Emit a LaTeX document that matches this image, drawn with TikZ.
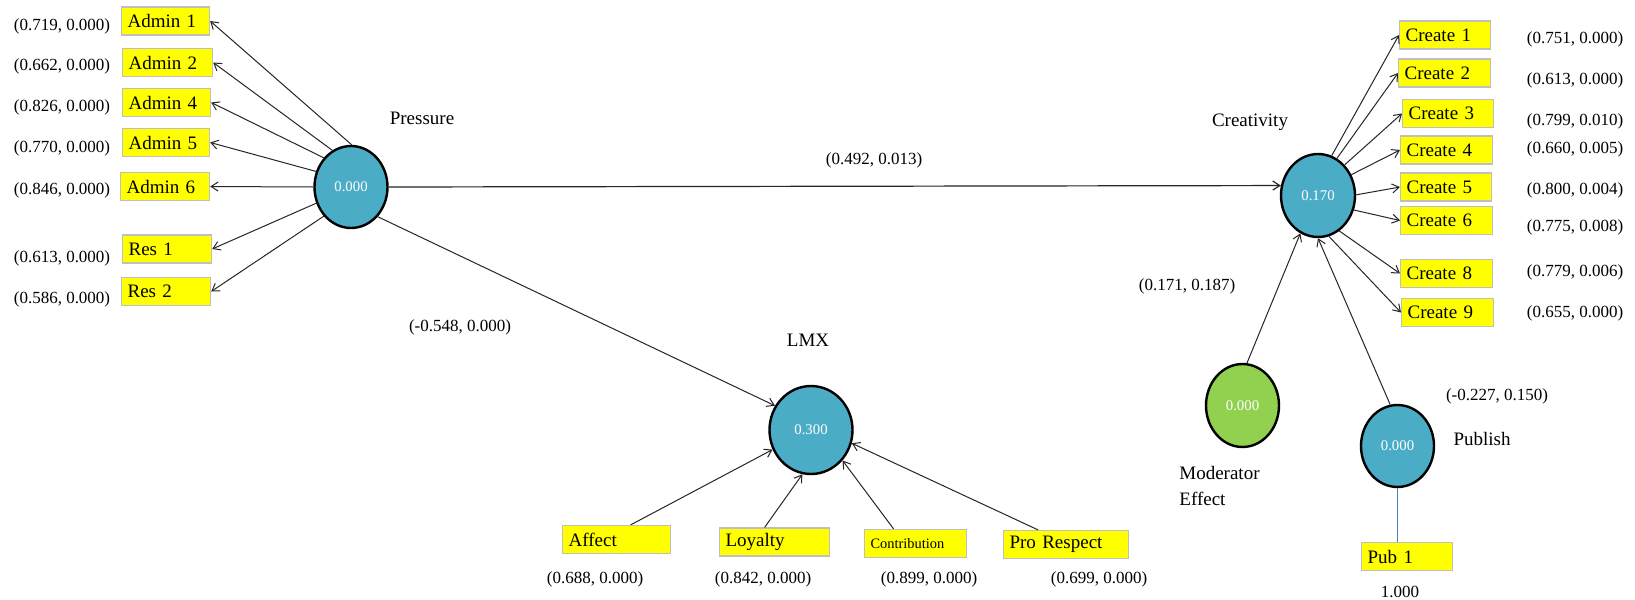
\documentclass[tikz,border=0pt]{standalone}
\usepackage{fontspec}
\setmainfont{Liberation Serif}
\usetikzlibrary{arrows.meta,shapes.geometric}
\definecolor{latentfill}{HTML}{4BACC6}
\definecolor{modfill}{HTML}{92D050}
\definecolor{indfill}{HTML}{FFFF00}
\definecolor{indborder}{HTML}{BFBFBF}
\definecolor{publine}{HTML}{4A7EBB}
\begin{document}
\begin{tikzpicture}[x=0.5pt,y=-0.5pt,
  latent/.style={ellipse, draw=black, line width=1.2pt, fill=latentfill, inner sep=0pt,
    minimum width=36.5pt, minimum height=41pt, text=white, font=\fontsize{7.4}{8}\selectfont},
  indbox/.style={draw=indborder, line width=0.6pt, fill=indfill, anchor=west,
    minimum height=14pt, inner xsep=3pt, inner ysep=0pt, align=left,
    font=\fontsize{9.5}{10}\selectfont},
  lname/.style={font=\fontsize{9.5}{13}\selectfont, inner sep=0pt},
  coef/.style={font=\fontsize{8.5}{10}\selectfont, inner sep=0pt},
  path/.style={draw=black!85, line width=0.5pt, -{Straight Barb[length=3.5pt,width=4.5pt]}}
]
\useasboundingbox (0,0) rectangle (1635,600);
\fill[white] (0,0) rectangle (1635,600);

% latent variables
\node[latent] (P) at (351,187) {0.000};
\node[latent, minimum width=37pt, minimum height=41.5pt] (C) at (1318,195.5) {0.170};
\node[latent, minimum width=41.5pt, minimum height=44pt] (L) at (811,430) {0.300};
\node[latent, fill=modfill, minimum height=41.5pt] (M) at (1242.5,405.5) {0.000};
\node[latent] (U) at (1397.5,446) {0.000};

% latent variable names
\node[lname] (Pn) at (422,118) {Pressure};
\node[lname] (Cn) at (1250,122) {Creativity};
\node[lname] (Ln) at (808,340) {LMX};
\node[lname, align=left, anchor=north west] (Mn) at (1179,466) {Moderator\\Effect};
\node[lname] (Un) at (1482,439) {Publish};

% Pressure indicators
\node[indbox, text width=38pt] (a1) at (121,21) {Admin 1};
\node[indbox, text width=39pt] (a2) at (122,62.5) {Admin 2};
\node[indbox, text width=38pt] (a4) at (122,102.5) {Admin 4};
\node[indbox, text width=37.5pt] (a5) at (122,142.5) {Admin 5};
\node[indbox, text width=38.5pt] (a6) at (120,186.5) {Admin 6};
\node[indbox, text width=38.5pt] (r1) at (122,249) {Res 1};
\node[indbox, text width=38.5pt] (r2) at (121,291.5) {Res 2};

\node[coef] (ka1) at (62,26) {(0.719, 0.000)};
\node[coef] (ka2) at (62,66) {(0.662, 0.000)};
\node[coef] (ka4) at (62,107.5) {(0.826, 0.000)};
\node[coef] (ka5) at (62,148) {(0.770, 0.000)};
\node[coef] (ka6) at (62,190) {(0.846, 0.000)};
\node[coef] (kr1) at (62,258) {(0.613, 0.000)};
\node[coef] (kr2) at (62,299.5) {(0.586, 0.000)};

% Creativity indicators
\node[indbox, text width=39.5pt] (c1) at (1399,35) {Create 1};
\node[indbox, text width=40pt] (c2) at (1398,73) {Create 2};
\node[indbox, text width=39.5pt] (c3) at (1402,113.5) {Create 3};
\node[indbox, text width=40pt] (c4) at (1400,150) {Create 4};
\node[indbox, text width=39.5pt] (c5) at (1400,187) {Create 5};
\node[indbox, text width=40pt] (c6) at (1400,220.5) {Create 6};
\node[indbox, text width=40pt] (c8) at (1400,273.5) {Create 8};
\node[indbox, text width=40pt] (c9) at (1401,312.5) {Create 9};

\node[coef] (kc1) at (1575,39.5) {(0.751, 0.000)};
\node[coef] (kc2) at (1575,80) {(0.613, 0.000)};
\node[coef] (kc3) at (1575,121.5) {(0.799, 0.010)};
\node[coef] (kc4) at (1575,149) {(0.660, 0.005)};
\node[coef] (kc5) at (1575,190.5) {(0.800, 0.004)};
\node[coef] (kc6) at (1575,227.5) {(0.775, 0.008)};
\node[coef] (kc8) at (1575,272.5) {(0.779, 0.006)};
\node[coef] (kc9) at (1575,313) {(0.655, 0.000)};

% LMX indicators
\node[indbox, text width=48pt] (x1) at (562,539.5) {Affect};
\node[indbox, text width=49pt] (x2) at (719,542) {Loyalty};
\node[indbox, text width=45pt, font=\fontsize{7.2}{8}\selectfont] (x3) at (864,543.5) {Contribution};
\node[indbox, text width=56.5pt] (x4) at (1003,544.5) {Pro Respect};

\node[coef] (kx1) at (595,579) {(0.688, 0.000)};
\node[coef] (kx2) at (763,579) {(0.842, 0.000)};
\node[coef] (kx3) at (929,579) {(0.899, 0.000)};
\node[coef] (kx4) at (1099,579) {(0.699, 0.000)};

% Publish indicator
\node[indbox, text width=39.5pt] (u1) at (1361,556.5) {Pub 1};
\node[coef] (ku1) at (1400,592) {1.000};

% structural path coefficients
\node[coef] (kPC) at (874,160) {(0.492, 0.013)};
\node[coef] (kPL) at (460,327) {(-0.548, 0.000)};
\node[coef] (kMC) at (1187,286) {(0.171, 0.187)};
\node[coef] (kUC) at (1497,396) {(-0.227, 0.150)};

% outer loadings of Pressure
\draw[path] (P.89) -- (a1.east);
\draw[path] (P.117) -- (a2.east);
\draw[path] (P.133) -- (a4.east);
\draw[path] (P.156) -- (a5.east);
\draw[path] (P.180) -- (a6.east);
\draw[path] (P.205) -- (r1.east);
\draw[path] (P.227) -- (r2.east);

% outer loadings of Creativity
\draw[path] (C.71) -- (c1.west);
\draw[path] (C.63) -- (c2.west);
\draw[path] (C.49) -- (c3.west);
\draw[path] (C.32) -- (c4.west);
\draw[path] (C.1) -- (c5.west);
\draw[path] (C.-22) -- (c6.west);
\draw[path] (C.-59) -- (c8.west);
\draw[path] (C.-75) -- (c9.west);

% LMX indicators pointing into the construct
\draw[path] ([xshift=7pt]x1.north) -- (L.207);
\draw[path] ([xshift=-5pt]x2.north) -- (L.259);
\draw[path] ([xshift=-11pt]x3.north) -- (L.316);
\draw[path] ([xshift=-14pt]x4.north) -- (L.342);

% structural model
\draw[path, line width=0.6pt] (P.0) -- (C.165);
\draw[path] (P.312) -- (L.146);
\draw[path] (M.84) -- (C.245);
\draw[path] (U.100) -- (C.270);

% single-item construct
\draw[publine, line width=0.6pt] (U.south) -- (U.south |- u1.north);
\end{tikzpicture}
\end{document}
